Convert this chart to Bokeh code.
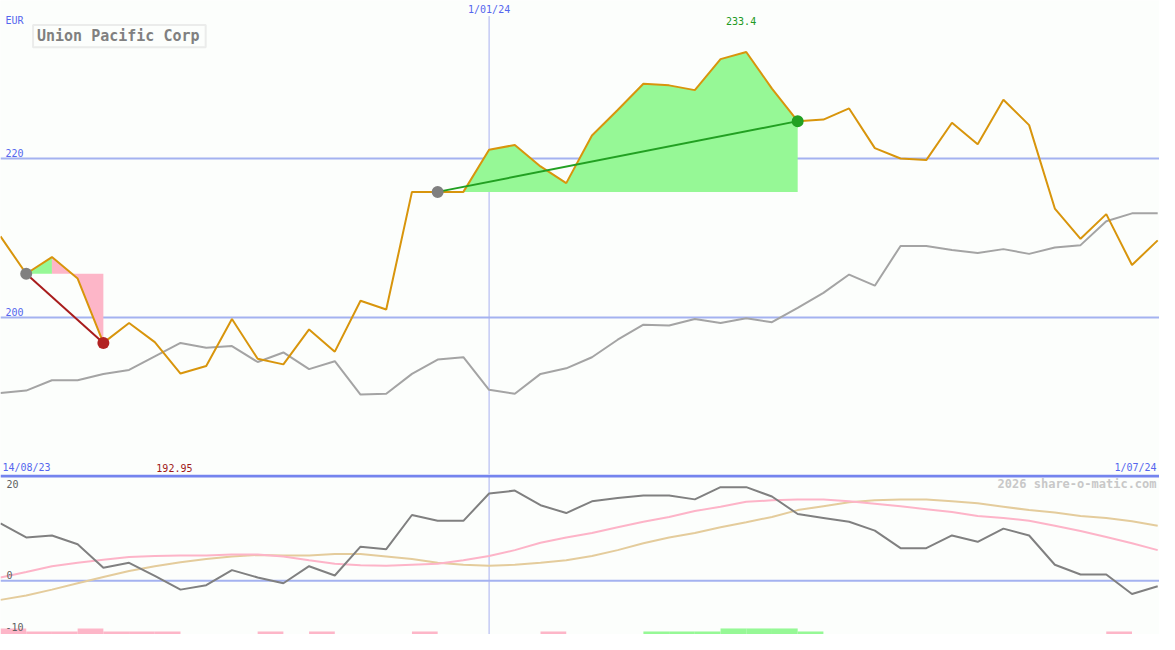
import pandas as pd
from bokeh.plotting import figure
from bokeh.layouts import column
from bokeh.models import Range1d, Span, Label, BoxAnnotation
from bokeh.embed import file_html
from bokeh.resources import INLINE

# ---------------- data ----------------
dates = pd.date_range("2023-08-21", periods=46, freq="7D")
close = [210.2, 205.5, 207.6, 204.9, 196.8, 199.3, 196.9, 192.95, 193.9, 199.8,
         194.8, 194.1, 198.5, 195.7, 202.1, 201.0, 215.8, 215.8, 215.8, 221.1,
         221.7, 219.0, 216.9, 222.9, 226.1, 229.4, 229.2, 228.6, 232.5, 233.4,
         228.8, 224.7, 224.9, 226.3, 221.3, 220.0, 219.8, 224.5, 221.8, 227.4,
         224.2, 213.7, 209.9, 213.0, 206.6, 209.7]
bench = [190.5, 190.8, 192.1, 192.1, 192.9, 193.4, 195.1, 196.8, 196.2, 196.4,
         194.4, 195.6, 193.5, 194.5, 190.3, 190.4, 192.9, 194.7, 195.0, 190.9,
         190.4, 192.9, 193.6, 195.0, 197.2, 199.1, 199.0, 199.8, 199.3, 199.9,
         199.4, 201.2, 203.1, 205.4, 204.0, 209.0, 209.0, 208.5, 208.1, 208.6,
         208.0, 208.8, 209.1, 212.1, 213.1, 213.1]
momentum = [11.8, 8.9, 9.3, 7.5, 2.7, 3.7, 1.0, -1.8, -0.9, 2.2,
            0.7, -0.5, 3.0, 1.1, 7.0, 6.5, 13.5, 12.3, 12.3, 17.9,
            18.5, 15.5, 13.9, 16.3, 17.0, 17.5, 17.5, 16.7, 19.2, 19.2,
            17.3, 13.7, 12.9, 12.1, 10.3, 6.7, 6.7, 9.3, 8.0, 10.7,
            9.3, 3.3, 1.3, 1.3, -2.7, -1.1]
avg_fast = [0.7, 1.8, 3.0, 3.7, 4.3, 4.9, 5.1, 5.2, 5.2, 5.4,
            5.4, 5.0, 4.2, 3.5, 3.2, 3.1, 3.3, 3.5, 4.2, 5.1,
            6.3, 7.8, 8.9, 9.8, 11.0, 12.1, 13.1, 14.3, 15.2, 16.2,
            16.5, 16.7, 16.7, 16.3, 15.8, 15.3, 14.7, 14.1, 13.3, 12.9,
            12.3, 11.3, 10.2, 9.0, 7.7, 6.3]
avg_slow = [-3.9, -3.0, -1.8, -0.5, 0.8, 2.0, 3.0, 3.8, 4.5, 5.0,
            5.3, 5.2, 5.2, 5.5, 5.5, 5.0, 4.5, 3.7, 3.3, 3.1,
            3.3, 3.7, 4.2, 5.1, 6.3, 7.7, 8.9, 9.8, 11.0, 12.0,
            13.1, 14.5, 15.3, 16.1, 16.5, 16.7, 16.7, 16.3, 15.9, 15.2,
            14.5, 14.0, 13.3, 12.9, 12.2, 11.3]
signal = [-2, -1, -1, -2, -1, -1, -1, 0, 0, 0,
          -1, 0, -1, 0, 0, 0, -1, 0, 0, 0,
          0, -1, 0, 0, 0, 1, 1, 1, 2, 2,
          2, 1, 0, 0, 0, 0, 0, 0, 0, 0,
          0, 0, 0, -1, 0, 0]
trades = [(1, 4), (17, 31)]          # (entry index, exit index)
price_levels = [200, 220]
osc_levels = [20, 0, -10]
title = "Union Pacific Corp"
currency = "EUR"
start_label, end_label, mid_label = "14/08/23", "1/07/24", "1/01/24"
mid_date = pd.Timestamp("2024-01-01")
watermark = "2026 share-o-matic.com"

# ---------------- geometry ----------------
W, H = 1159, 634
SY = H / 650.0
H1 = round(486 * SY)
H2 = H - H1
BG = "#fcfefc"
BLUE_TXT = "#5566ee"
GRID = "#a4b2f0"
FONT = "DejaVu Sans Mono"
GREEN_FILL = "#96f896"
PINK_FILL = "#fdb6c8"

week_ms = 7 * 86400000.0
t0 = dates[0].value / 1e6
span_w = 45.07 * week_ms
xr1 = Range1d(start=dates[0].to_pydatetime(),
              end=pd.Timestamp(t0 + span_w, unit="ms").to_pydatetime())

top1 = 220 + 162 / 8.15
bot1 = 220 - (486 - 162) / 8.15
top2 = (595 - 486) / 5.0
bot2 = (595 - 650) / 5.0


def PX(px):
    return t0 + px / 1175.0 * span_w


def PY1(py):
    return top1 - py / 486.0 * (top1 - bot1)


def PY2(py):
    return top2 - (py - 486) / 164.0 * (top2 - bot2)


def mkfig(h, yr):
    f = figure(width=W, height=h, x_axis_type="datetime", x_range=xr1,
               y_range=Range1d(*yr), output_backend="svg",
               toolbar_location=None, x_axis_location=None,
               y_axis_location=None, min_border=0,
               background_fill_color=BG, border_fill_color=BG)
    f.outline_line_color = None
    f.xgrid.visible = False
    f.ygrid.visible = False
    return f


# ---------------- main panel ----------------
p = mkfig(H1, (bot1, top1))
for lv in price_levels:
    p.add_layout(Span(location=lv, dimension="width", line_color=GRID,
                      line_width=2, level="underlay"))
p.segment(x0=[mid_date], x1=[mid_date], y0=[PY1(16)], y1=[bot1 - 1],
          line_color="#a8b0f0", line_width=1)

# trade fills: runs of segments with the same sign relative to the entry price
for (a, b) in trades:
    base = close[a]
    xs, ys, cs = [], [], []
    run_start, run_col = None, None
    for i in range(a + 1, b + 1):
        col = GREEN_FILL if close[i] >= base else PINK_FILL
        if col != run_col:
            if run_col is not None:
                idx = list(range(run_start, i))
                xs.append([dates[run_start]] + [dates[k] for k in idx] + [dates[i - 1]])
                ys.append([base] + [close[k] for k in idx] + [base])
                cs.append(run_col)
            run_start, run_col = i - 1, col
    idx = list(range(run_start, b + 1))
    xs.append([dates[run_start]] + [dates[k] for k in idx] + [dates[b]])
    ys.append([base] + [close[k] for k in idx] + [base])
    cs.append(run_col)
    p.patches(xs=xs, ys=ys, fill_color=cs, line_color=None)

p.line(dates, bench, line_color="#a4a4a4", line_width=2)
p.line(dates, close, line_color="#d8950c", line_width=2)

for (a, b) in trades:
    win = close[b] >= close[a]
    col = "#22a022" if win else "#a81c1c"
    p.line([dates[a], dates[b]], [close[a], close[b]], line_color=col, line_width=2)
    p.scatter([dates[a]], [close[a]], size=12, fill_color="#808080", line_color=None)
    p.scatter([dates[b]], [close[b]], size=12,
              fill_color="#22a022" if win else "#b22222", line_color=None)


def lab(fig, x, y, text, color, size="10px", align="left", bold=False):
    fig.add_layout(Label(x=x, y=y, text=text, text_color=color, text_font=FONT,
                         text_font_size=size, text_align=align,
                         text_baseline="middle",
                         text_font_style="bold" if bold else "normal"))


lab(p, PX(5), PY1(20), currency, BLUE_TXT)
for lv in price_levels:
    lab(p, PX(5), lv + 6 / 8.15, str(lv), BLUE_TXT)
lab(p, mid_date.value / 1e6, PY1(9), mid_label, BLUE_TXT, align="center")
imax = close.index(max(close))
lab(p, dates[imax].value / 1e6 - 0.2 * week_ms, PY1(21), f"{max(close):g}", "#229922",
    align="center")
lab(p, PX(2), PY1(479), start_label, BLUE_TXT)
lab(p, PX(158), PY1(479), f"{min(close):.2f}", "#a01818")
lab(p, PX(1172), PY1(479), end_label, BLUE_TXT, align="right")

p.add_layout(BoxAnnotation(left=PX(33), right=PX(208), top=PY1(25), bottom=PY1(48),
                           fill_color=None, line_color="#c4c4c4", line_width=2))
lab(p, PX(37), PY1(36.5), title, "#808080", size="15px", bold=True)

# ---------------- oscillator panel ----------------
q = mkfig(H2, (bot2, top2))
q.add_layout(Span(location=0, dimension="width", line_color=GRID, line_width=2,
                  level="underlay"))
q.add_layout(Span(location=mid_date, dimension="height", line_color="#a8b0f0",
                  line_width=1, level="underlay"))
q.add_layout(Span(location=top2 - 1.5 / 5.0, dimension="width", line_color="#7484ee",
                  line_width=3))

bl, br, bt, bc = [], [], [], []
for i, s in enumerate(signal):
    if s != 0:
        bl.append(dates[i])
        br.append(dates[i] + pd.Timedelta(days=7))
        bt.append(bot2 + 0.62 * abs(s))
        bc.append(GREEN_FILL if s > 0 else PINK_FILL)
q.quad(left=bl, right=br, bottom=bot2 - 1, top=bt, fill_color=bc, line_color=None)

q.line(dates, avg_slow, line_color="#e4cc9c", line_width=2)
q.line(dates, avg_fast, line_color="#fdb4c8", line_width=2)
q.line(dates, momentum, line_color="#808080", line_width=2)

lab(q, PX(6), PY2(496), str(osc_levels[0]), "#606060")
lab(q, PX(6), PY2(589), str(osc_levels[1]), "#606060")
lab(q, PX(5), PY2(642), str(osc_levels[2]), "#606060")
lab(q, PX(1172), PY2(496), watermark, "#c8c8c8", size="12px", align="right", bold=True)

layout = column(p, q, spacing=0)
open("out.html", "w").write(file_html(layout, INLINE))
